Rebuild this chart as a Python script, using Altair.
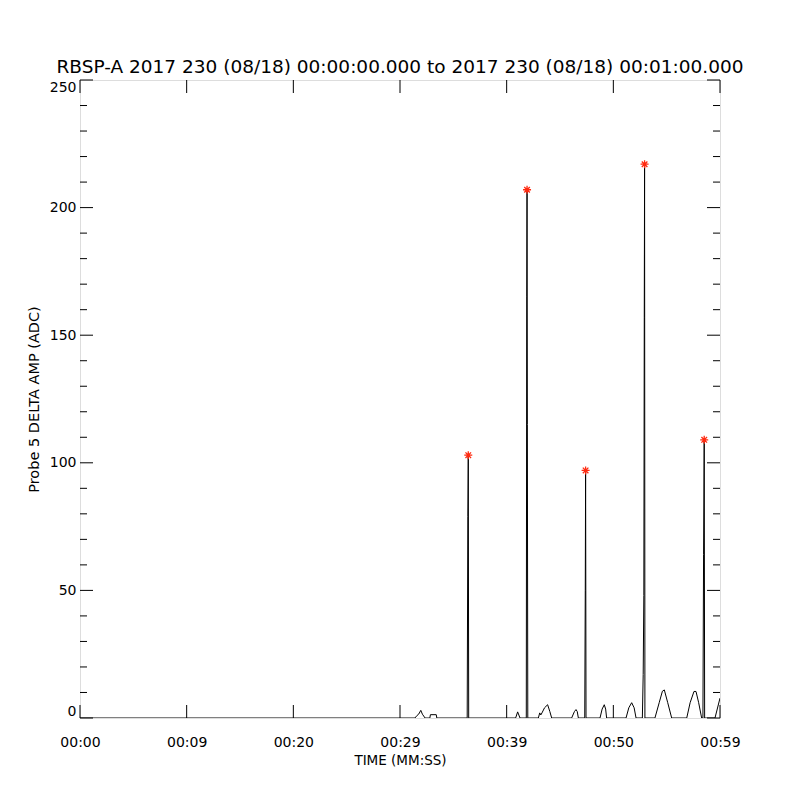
import altair as alt
import pandas as pd

# ---- data ----
times = [0, 31.40, 31.60, 31.75, 31.95, 32.10, 32.35, 32.80, 32.85, 33.40, 33.45,
         36.30, 36.36, 36.40, 36.44,
         40.84, 41.03, 41.25,
         41.84, 41.88, 41.91, 41.94, 41.98,
         42.97, 43.10, 43.20, 43.31, 43.55, 43.84, 44.05, 44.22,
         46.09, 46.35, 46.50, 46.62, 46.72,
         47.32, 47.37, 47.40, 47.44,
         48.75, 48.95, 49.15, 49.28, 49.37,
         51.19, 51.45, 51.72, 51.95, 52.13,
         52.72, 52.80, 52.86, 52.90, 52.93, 52.96,
         53.90, 54.30, 54.60, 54.78, 55.10, 55.47,
         56.88, 57.20, 57.56, 57.75, 58.00, 58.28,
         58.40, 58.46, 58.52, 58.56,
         59.53, 60.0]
values = [0, 0, 1, 1.5, 3, 1.5, 0, 0, 1.3, 1.3, 0,
          0, 79, 103, 0,
          0, 2.4, 0,
          0, 165, 207, 115, 0,
          0, 2, 1.2, 2, 4, 5.2, 2.5, 0,
          0, 2.5, 3.3, 2.5, 0,
          0, 50, 97, 0,
          0, 3.5, 5.2, 3.5, 0,
          0, 4, 6, 4, 0,
          0, 17, 48, 157, 217, 0,
          0, 6, 10.5, 11, 6, 0,
          0, 6, 10.4, 10.4, 6, 0,
          0, 64, 109, 0,
          0, 7.8]
peak_t = [36.40, 41.91, 47.40, 52.93, 58.52]
peak_v = [103, 207, 97, 217, 109]

x_tick_values = [0, 10, 20, 30, 40, 50, 60]
x_tick_labels = ["00:00", "00:09", "00:20", "00:29", "00:39", "00:50", "00:59"]
y_major = [0, 50, 100, 150, 200, 250]
y_minor = [10, 20, 30, 40, 60, 70, 80, 90, 110, 120, 130, 140,
           160, 170, 180, 190, 210, 220, 230, 240]

title_text = "RBSP-A 2017 230 (08/18) 00:00:00.000 to 2017 230 (08/18) 00:01:00.000"

# ---- build ----
W, H = 640, 638
FONT = "DejaVu Sans"

trace = pd.DataFrame({"t": times, "v": values})
peaks = pd.DataFrame({"t": peak_t, "v": peak_v})
xt = pd.DataFrame({"t": x_tick_values})
ymaj = pd.DataFrame({"v": y_major})
ymin = pd.DataFrame({"v": y_minor})

xscale = alt.Scale(domain=[0, 60], nice=False, zero=False)
yscale = alt.Scale(domain=[0, 250], nice=False)

label_expr = "[" + ",".join("'%s'" % s for s in x_tick_labels) + "][round(datum.value/10)]"

x_axis = alt.Axis(values=x_tick_values, labelExpr=label_expr, ticks=False, domain=False,
                  grid=False, labelPadding=17, labelFontSize=14, labelFont=FONT,
                  labelColor="black", title="TIME (MM:SS)", titleFont=FONT,
                  titleFontSize=13.5, titleFontWeight="normal", titleColor="black",
                  titlePadding=4, labelFlush=False)
y_axis = alt.Axis(values=y_major, ticks=False, domain=False, grid=False,
                  labelPadding=4, labelFontSize=14, labelFont=FONT, labelColor="black",
                  title="Probe 5 DELTA AMP (ADC)", titleFont=FONT, titleFontSize=14.5,
                  titleFontWeight="normal", titleColor="black", titlePadding=8,
                  labelFlush=True)

X = alt.X("t:Q", scale=xscale, axis=x_axis)
Y = alt.Y("v:Q", scale=yscale, axis=y_axis)

line = alt.Chart(trace).mark_line(color="black", strokeWidth=1, clip=True).encode(
    x=X, y=Y, order="t:Q",
)

asterisk = "M-1,0L1,0M0,-1L0,1M-0.7,-0.7L0.7,0.7M-0.7,0.7L0.7,-0.7"
stars = alt.Chart(peaks).mark_point(shape=asterisk, filled=False, color="#ff2a10",
                                    strokeWidth=1.3, size=64, opacity=1).encode(x=X, y=Y)

bt = alt.Chart(xt).mark_rule(color="black", strokeWidth=1).encode(
    x=X, y=alt.value(H), y2=alt.value(H - 13))
tt = alt.Chart(xt).mark_rule(color="black", strokeWidth=1).encode(
    x=X, y=alt.value(0), y2=alt.value(13))
lmaj = alt.Chart(ymaj).mark_rule(color="black", strokeWidth=1).encode(
    y=Y, x=alt.value(0), x2=alt.value(13))
rmaj = alt.Chart(ymaj).mark_rule(color="black", strokeWidth=1).encode(
    y=Y, x=alt.value(W - 13), x2=alt.value(W))
lmin = alt.Chart(ymin).mark_rule(color="black", strokeWidth=1).encode(
    y=Y, x=alt.value(0), x2=alt.value(7))
rmin = alt.Chart(ymin).mark_rule(color="black", strokeWidth=1).encode(
    y=Y, x=alt.value(W - 7), x2=alt.value(W))

chart = alt.layer(line, bt, tt, lmaj, rmaj, lmin, rmin, stars).properties(
    width=W, height=H,
    title=alt.TitleParams(title_text, font=FONT, fontSize=18.5, fontWeight="normal",
                          color="black", anchor="middle", baseline="bottom", offset=-16),
    autosize=alt.AutoSizeParams(type="none"),
    padding={"left": 72, "top": 72, "right": 72, "bottom": 74},
).configure_view(stroke="black", strokeWidth=1).configure(background="white")

chart.save("out.html", embed_options={"renderer": "svg", "actions": False})
